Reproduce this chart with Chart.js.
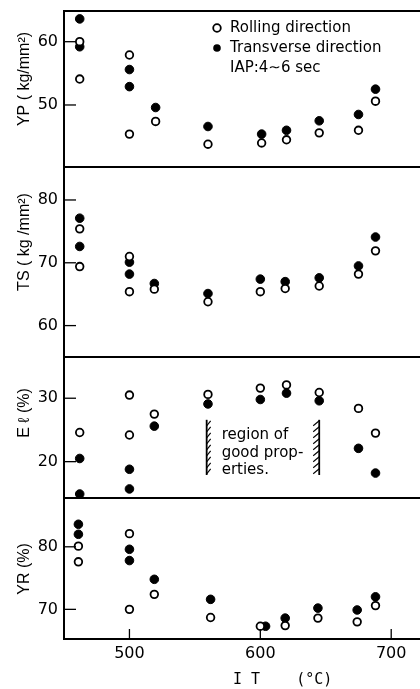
<!DOCTYPE html>
<html>
<head>
<meta charset="utf-8">
<script src="https://cdn.jsdelivr.net/npm/chart.js@4"></script>
<style>
  body { margin: 0; background: #fff; }
  canvas { display: block; }
</style>
</head>
<body>
<canvas id="itChart" width="420" height="689"></canvas>
<script>
// tick labels
var itTicks = [500, 600, 700];
var ypTicks = [50, 60];
var tsTicks = [60, 70, 80];
var elTicks = [20, 30];
var yrTicks = [70, 80];

// YP (kg/mm2)
var ypRollingIT = [462, 462, 500, 500, 520, 560, 601, 620, 645, 675, 688];
var ypRolling = [60.0, 54.1, 57.9, 45.4, 47.4, 43.8, 44.0, 44.5, 45.6, 46.0, 50.6];
var ypTransIT = [462, 462, 500, 500, 520, 560, 601, 620, 645, 675, 688];
var ypTrans = [63.6, 59.2, 55.6, 52.9, 49.6, 46.6, 45.4, 46.0, 47.5, 48.5, 52.5];

// TS (kg/mm2)
var tsRollingIT = [462, 462, 500, 500, 519, 560, 600, 619, 645, 675, 688];
var tsRolling = [75.4, 69.4, 71.0, 65.4, 65.8, 63.8, 65.4, 65.9, 66.3, 68.2, 71.9];
var tsTransIT = [462, 462, 500, 500, 519, 560, 600, 619, 645, 675, 688];
var tsTrans = [77.1, 72.6, 70.1, 68.2, 66.7, 65.1, 67.4, 67.0, 67.6, 69.5, 74.1];

// El (%)
var elRollingIT = [462, 500, 500, 519, 560, 600, 620, 645, 675, 688];
var elRolling = [24.6, 30.5, 24.2, 27.5, 30.6, 31.6, 32.1, 30.9, 28.4, 24.5];
var elTransIT = [462, 462, 500, 500, 519, 560, 600, 620, 645, 675, 688];
var elTrans = [20.5, 14.9, 18.8, 15.7, 25.6, 29.1, 29.8, 30.8, 29.6, 22.1, 18.2];

// YR (%)
var yrRollingIT = [461, 461, 500, 500, 519, 562, 600, 619, 644, 674, 688];
var yrRolling = [80.1, 77.6, 82.1, 70.0, 72.4, 68.7, 67.3, 67.4, 68.6, 68.0, 70.6];
var yrTransIT = [461, 461, 500, 500, 519, 562, 604, 619, 644, 674, 688];
var yrTrans = [83.6, 82.0, 79.6, 77.8, 74.8, 71.6, 67.3, 68.6, 70.2, 69.9, 72.0];

// region of good properties (IT bounds)
var goodRegion = [559, 645];

function pts(xs, ys) {
  return xs.map(function (x, i) { return { x: x, y: ys[i] }; });
}

function openSet(xs, ys, axis) {
  return {
    label: "Rolling direction",
    data: pts(xs, ys),
    yAxisID: axis,
    pointRadius: 3.8,
    pointBorderWidth: 1.8,
    pointBackgroundColor: "#fff",
    pointBorderColor: "#000",
    showLine: false,
    clip: false,
  };
}

function filledSet(xs, ys, axis) {
  return {
    label: "Transverse direction",
    data: pts(xs, ys),
    yAxisID: axis,
    pointRadius: 4.3,
    pointBorderWidth: 1,
    pointBackgroundColor: "#000",
    pointBorderColor: "#000",
    showLine: false,
    clip: false,
  };
}

function yScale(ticks, min, max, weight, stackWeight) {
  return {
    type: "linear",
    position: "left",
    stack: "panels",
    stackWeight: stackWeight,
    weight: weight,
    min: min,
    max: max,
    afterBuildTicks: function (s) {
      s.ticks = ticks.map(function (v) { return { value: v }; });
    },
    afterFit: function (s) {
      s.width = 64;
      s.paddingTop = 0;
      s.paddingBottom = 0;
    },
    grid: { display: false, drawTicks: false },
    border: { color: "#000", width: 2 },
    ticks: {
      color: "#000",
      padding: 6,
      font: { family: "DejaVu Sans", size: 16 },
    },
  };
}

function line(ctx, x1, y1, x2, y2) {
  ctx.beginPath();
  ctx.moveTo(x1, y1);
  ctx.lineTo(x2, y2);
  ctx.stroke();
}

function vtext(ctx, str, x, y) {
  ctx.save();
  ctx.translate(x, y);
  ctx.rotate(-Math.PI / 2);
  ctx.textAlign = "center";
  ctx.textBaseline = "middle";
  ctx.fillText(str, 0, 0);
  ctx.restore();
}

var decor = {
  id: "decor",
  afterDraw: function (chart) {
    var ctx = chart.ctx;
    var area = chart.chartArea;
    var sx = chart.scales.x;
    ctx.save();
    ctx.strokeStyle = "#000";
    ctx.fillStyle = "#000";

    // panel borders and inward ticks
    ["yp", "ts", "el", "yr"].forEach(function (id) {
      var s = chart.scales[id];
      ctx.lineWidth = 2;
      line(ctx, area.left - 1, s.top, area.right, s.top);
      ctx.lineWidth = 1.3;
      s.ticks.forEach(function (t) {
        var y = s.getPixelForValue(t.value);
        line(ctx, area.left, y, area.left + 12, y);
      });
    });
    ctx.lineWidth = 1.3;
    sx.ticks.forEach(function (t) {
      var x = sx.getPixelForValue(t.value);
      line(ctx, x, area.bottom, x, area.bottom - 10);
    });

    // axis titles
    ctx.font = "16px 'Liberation Sans'";
    vtext(ctx, "YP ( kg/mm²)", 25, chart.scales.yp.top + 68);
    vtext(ctx, "TS ( kg /mm²)", 25, chart.scales.ts.top + 75);
    vtext(ctx, "E ℓ (%)", 25, chart.scales.el.top + 56);
    vtext(ctx, "YR (%)", 25, chart.scales.yr.top + 71);
    ctx.font = "15px 'DejaVu Sans Mono'";
    ctx.textAlign = "left";
    ctx.textBaseline = "middle";
    ctx.fillText("I T    (°C)", 233, area.bottom + 41);

    // legend
    var lx = 217, ly = area.top + 17;
    ctx.lineWidth = 1.8;
    ctx.beginPath();
    ctx.arc(lx, ly, 3.8, 0, Math.PI * 2);
    ctx.stroke();
    ctx.beginPath();
    ctx.arc(lx, ly + 20, 3.8, 0, Math.PI * 2);
    ctx.fill();
    ctx.font = "15px 'DejaVu Sans'";
    ctx.fillText("Rolling direction", lx + 13, ly);
    ctx.fillText("Transverse direction", lx + 13, ly + 20);
    ctx.fillText("IAP:4∼6 sec", lx + 13, ly + 40);

    // region of good properties
    var el = chart.scales.el;
    var xa = sx.getPixelForValue(goodRegion[0]);
    var xb = sx.getPixelForValue(goodRegion[1]);
    var yt = el.getPixelForValue(26.6);
    var yb = el.getPixelForValue(17.9);
    ctx.lineWidth = 1.8;
    line(ctx, xa, yt, xa, yb);
    line(ctx, xb, yt, xb, yb);
    ctx.lineWidth = 1.1;
    for (var y = yt + 6; y < yb; y += 6) {
      line(ctx, xa, y, xa + 4, y - 5);
      line(ctx, xb - 6, y, xb, y - 5);
    }
    ctx.font = "15px 'DejaVu Sans'";
    ctx.fillText("region of", xa + 15, yt + 15);
    ctx.fillText("good prop-", xa + 15, yt + 33);
    ctx.fillText("erties.", xa + 15, yt + 50);
    ctx.restore();
  },
};

var ctx = document.getElementById("itChart").getContext("2d");

var itChart = new Chart(ctx, {
  type: "scatter",
  data: {
    datasets: [
      openSet(ypRollingIT, ypRolling, "yp"),
      filledSet(ypTransIT, ypTrans, "yp"),
      openSet(tsRollingIT, tsRolling, "ts"),
      filledSet(tsTransIT, tsTrans, "ts"),
      openSet(elRollingIT, elRolling, "el"),
      filledSet(elTransIT, elTrans, "el"),
      openSet(yrRollingIT, yrRolling, "yr"),
      filledSet(yrTransIT, yrTrans, "yr"),
    ],
  },
  options: {
    responsive: false,
    animation: false,
    layout: { autoPadding: false, padding: { top: 11, left: 0, right: 0, bottom: 0 } },
    scales: {
      x: {
        type: "linear",
        position: "bottom",
        min: 450,
        max: 722,
        afterBuildTicks: function (s) {
          s.ticks = itTicks.map(function (v) { return { value: v }; });
        },
        afterFit: function (s) {
          s.height = 50;
          s.paddingLeft = 0;
          s.paddingRight = 0;
        },
        grid: { display: false, drawTicks: false },
        border: { color: "#000", width: 2 },
        ticks: {
          color: "#000",
          padding: 5,
          font: { family: "DejaVu Sans", size: 16 },
        },
      },
      yp: yScale(ypTicks, 40.2, 64.85, 4, 156),
      ts: yScale(tsTicks, 55.0, 85.25, 3, 190),
      el: yScale(elTicks, 14.27, 36.5, 2, 141),
      yr: yScale(yrTicks, 65.26, 87.8, 1, 141),
    },
    plugins: {
      legend: { display: false },
      tooltip: { enabled: false },
    },
  },
  plugins: [decor],
});
</script>
</body>
</html>
